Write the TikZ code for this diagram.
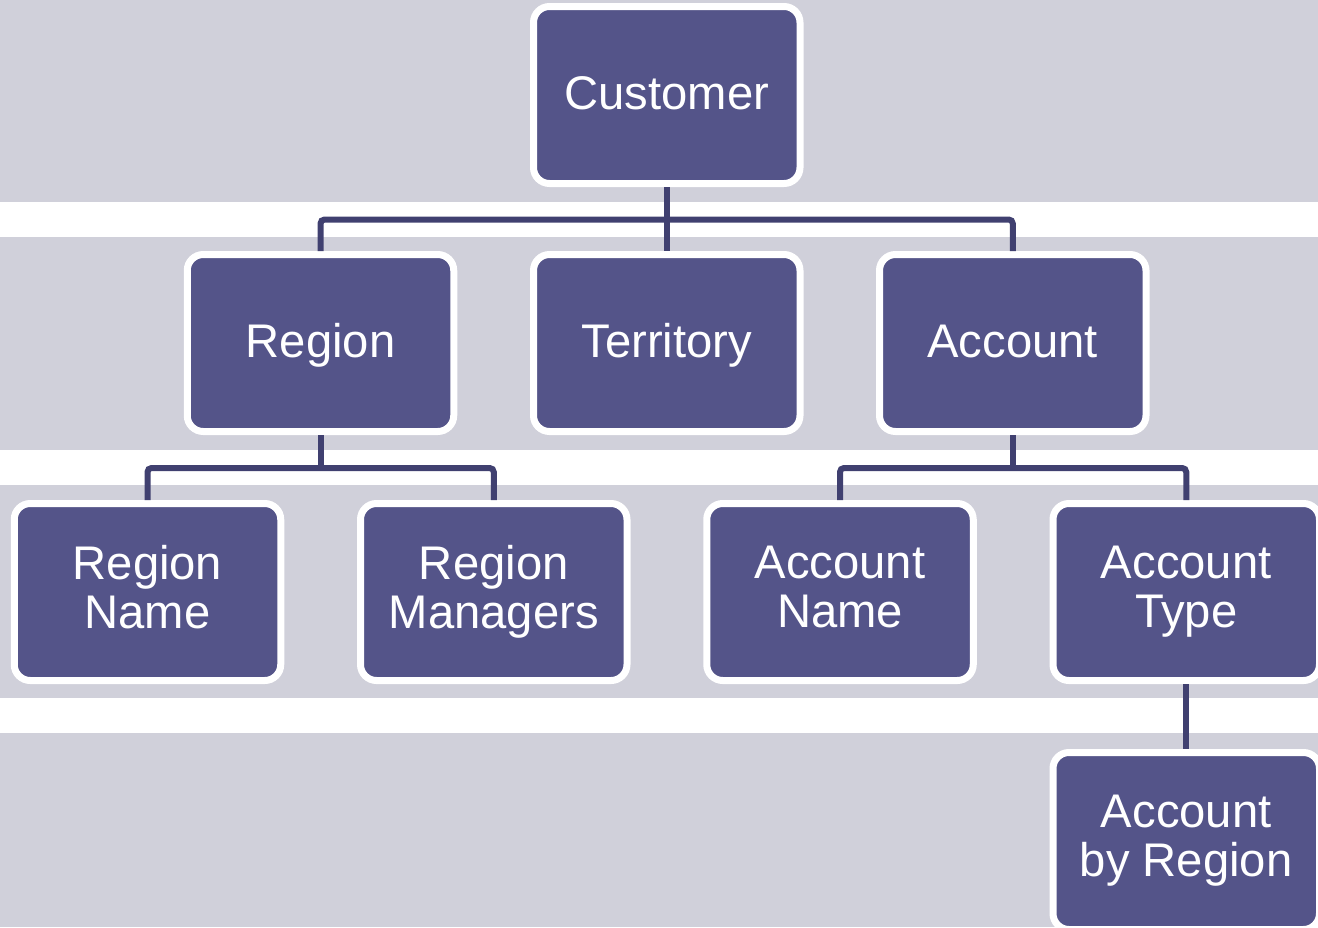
\documentclass[tikz,border=0pt]{standalone}
\usepackage{fontspec}
\setmainfont{Liberation Sans}
\definecolor{bandgray}{RGB}{208,208,218}
\definecolor{boxfill}{RGB}{84,84,137}
\definecolor{connline}{RGB}{64,64,112}
\newcommand\bstrut{\rule[-4.95pt]{0pt}{24.5pt}}
\begin{document}
\begin{tikzpicture}[x=0.5pt,y=-0.5pt,
  box/.style={draw=white, line width=3.5pt, fill=boxfill, rounded corners=8pt,
    minimum width=133.25pt, minimum height=88.5pt, inner sep=0pt,
    text=white, align=center,
    font=\fontsize{23.6}{24.5}\selectfont,
    execute at begin node=\bstrut, execute at end node=\bstrut},
  conn/.style={draw=connline, line width=3pt, rounded corners=2pt}]
\useasboundingbox (0,0) rectangle (1318,927);
% bands
\fill[bandgray] (0,0) rectangle (1318,202);
\fill[bandgray] (0,237) rectangle (1318,450);
\fill[bandgray] (0,485) rectangle (1318,698);
\fill[bandgray] (0,733) rectangle (1318,927);
% nodes
\node[box] (cust) at (666.75,95) {Customer};
\node[box] (region) at (320.5,343) {Region};
\node[box] (terr) at (666.75,343) {Territory};
\node[box] (acct) at (1012.75,343) {Account};
\node[box] (rname) at (147.5,592) {Region\\Name};
\node[box] (rman) at (493.75,592) {Region\\Managers};
\node[box] (aname) at (840,592) {Account\\Name};
\node[box] (atype) at (1186.25,592) {Account\\Type};
\node[box] (abr) at (1186.25,841) {Account\\by Region};
% connectors
\coordinate (b1) at (666.75,219.5);
\coordinate (b2) at (320.5,468);
\coordinate (b3) at (1012.75,468);
\draw[conn] (region.north) |- (b1) -| (acct.north);
\draw[conn] (cust.south) -- (terr.north);
\draw[conn] (rname.north) |- (b2) -| (rman.north);
\draw[conn] (region.south) -- (b2);
\draw[conn] (aname.north) |- (b3) -| (atype.north);
\draw[conn] (acct.south) -- (b3);
\draw[conn] (atype.south) -- (abr.north);
\end{tikzpicture}
\end{document}
